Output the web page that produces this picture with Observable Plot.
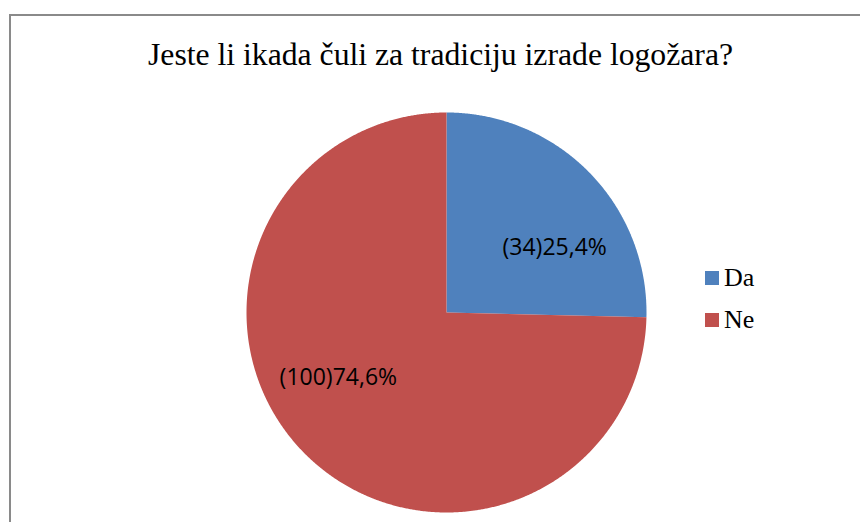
<!DOCTYPE html>
<html>
<head>
<meta charset="utf-8">
<script src="https://cdn.jsdelivr.net/npm/d3@7"></script>
<script src="https://cdn.jsdelivr.net/npm/@observablehq/plot@0.6"></script>
<style>
  html, body { margin: 0; padding: 0; background: #fff; }
  #wrap { position: relative; width: 860px; height: 522px; overflow: hidden; background: #fff; }
  #frame { position: absolute; left: 9px; top: 14px; width: 900px; height: 600px;
           border-left: 2px solid #8a8a8a; border-top: 2px solid #8a8a8a; box-sizing: border-box; }
  #chart { position: absolute; left: 0; top: 0; }
  .leg { position: absolute; font-family: "Liberation Serif", serif; font-size: 26px; line-height: 26px; color: #000; }
  .sw { position: absolute; width: 14px; height: 14px; }
</style>
</head>
<body>
<div id="wrap">
  <div id="chart"></div>
  <div id="frame"></div>
  <div id="legend"></div>
</div>
<script>
const title = "Jeste li ikada čuli za tradiciju izrade logožara?";
const categories = ["Da", "Ne"];
const counts = [34, 100];
const colors = ["#4F81BD", "#C0504D"];

const rows = categories.map((c, i) => ({label: c, count: counts[i]}));
const total = d3.sum(counts);
const arcs = d3.pie().sort(null).value(d => d.count)(rows);

// polygon points for each slice in unit-circle coordinates (y up)
const pts = [];
for (const a of arcs) {
  const n = Math.max(8, Math.ceil((a.endAngle - a.startAngle) / 0.005));
  pts.push({label: a.data.label, x: 0, y: 0});
  for (let k = 0; k <= n; k++) {
    const t = a.startAngle + (a.endAngle - a.startAngle) * k / n;
    pts.push({label: a.data.label, x: Math.sin(t), y: Math.cos(t)});
  }
  pts.push({label: a.data.label, x: 0, y: 0});
}

const fmt = v => (Math.round(v * 10) / 10).toFixed(1).replace(".", ",");
const labelShift = 0.235; // rotation of label placement (radians)
const labels = arcs.map(a => {
  const m = (a.startAngle + a.endAngle) / 2 + labelShift;
  const r = 0.63;
  return {
    x: r * Math.sin(m),
    y: r * Math.cos(m),
    text: `(${a.data.count})${fmt(a.data.count / total * 100)}%`
  };
});

const R = 200, cx = 446, cy = 312, W = 860, H = 522;

const chart = Plot.plot({
  width: W,
  height: H,
  margin: 0,
  x: {type: "linear", domain: [-cx / R, (W - cx) / R], range: [0, W], axis: null},
  y: {type: "linear", domain: [cy / R, -(H - cy) / R], range: [0, H], axis: null},
  color: {domain: categories, range: colors},
  marks: [
    Plot.line(pts, {x: "x", y: "y", z: "label", fill: "label", stroke: "none", curve: "linear"}),
    Plot.text(labels, {x: "x", y: "y", text: "text", fill: "black", fontSize: 23,
                       fontFamily: "Open Sans", textAnchor: "middle"}),
    Plot.text([title], {frameAnchor: "top", lineAnchor: "middle", dx: 10, dy: 54, text: d => d,
                        fill: "black", fontSize: 31.7, fontFamily: "Liberation Serif"})
  ]
});
document.getElementById("chart").appendChild(chart);

// legend
const leg = document.getElementById("legend");
categories.forEach((c, i) => {
  const sw = document.createElement("div");
  sw.className = "sw";
  sw.style.left = "705px";
  sw.style.top = (271 + i * 42) + "px";
  sw.style.background = colors[i];
  leg.appendChild(sw);
  const t = document.createElement("div");
  t.className = "leg";
  t.style.left = "724px";
  t.style.top = (265 + i * 42) + "px";
  t.textContent = c;
  leg.appendChild(t);
});
</script>
</body>
</html>
